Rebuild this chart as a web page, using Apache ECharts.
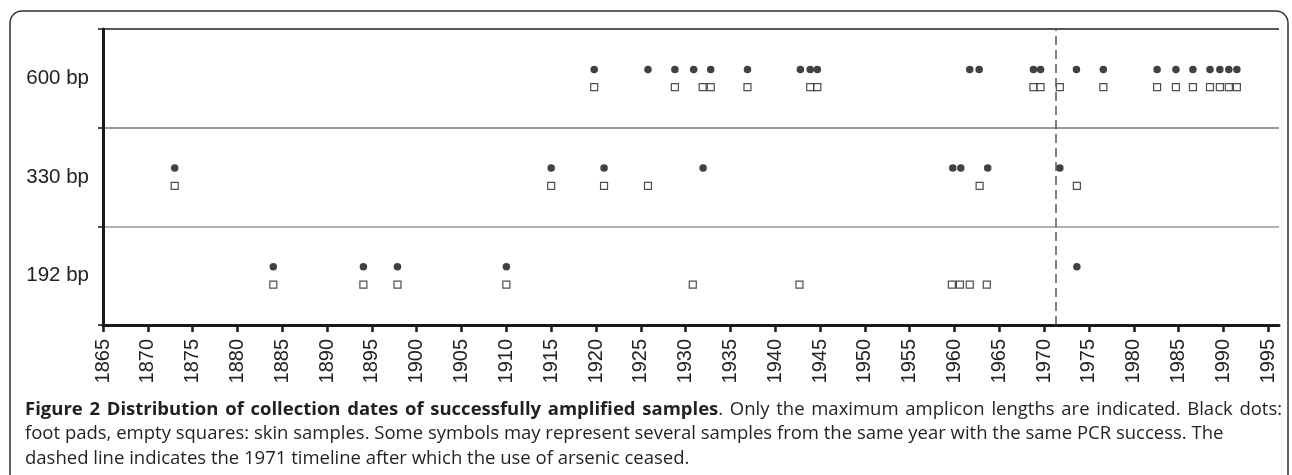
<!DOCTYPE html>
<html>
<head>
<meta charset="utf-8">
<script src="https://cdn.jsdelivr.net/npm/echarts@6/dist/echarts.min.js"></script>
<style>
html,body{margin:0;padding:0;background:#fff;}
#chart{width:1292px;height:475px;}
</style>
</head>
<body>
<div id="chart"></div>
<script>
// Amplicon length categories (bottom to top)
var categories = ['192 bp', '330 bp', '600 bp'];
// Year tick labels
var yearTicks = [1865,1870,1875,1880,1885,1890,1895,1900,1905,1910,1915,1920,1925,1930,1935,1940,1945,1950,1955,1960,1965,1970,1975,1980,1985,1990,1995];
// Black dots: foot pads (collection year)
var dots600 = [1919.8,1925.8,1928.8,1930.9,1932.8,1936.9,1942.8,1943.9,1944.7,1961.7,1962.75,1968.8,1969.6,1973.6,1976.6,1982.6,1984.7,1986.6,1988.5,1989.6,1990.6,1991.5];
var dots330 = [1873.0,1915.0,1920.9,1931.95,1959.8,1960.7,1963.7,1971.75];
var dots192 = [1884.0,1894.05,1897.85,1910.0,1973.65];
// Empty squares: skin samples (collection year)
var squares600 = [1919.8,1928.8,1931.9,1932.8,1936.9,1943.9,1944.7,1968.8,1969.6,1971.75,1976.6,1982.6,1984.7,1986.6,1988.5,1989.6,1990.6,1991.5];
var squares330 = [1873.0,1915.0,1920.9,1925.8,1962.8,1973.65];
var squares192 = [1884.0,1894.05,1897.85,1910.0,1930.8,1942.7,1959.7,1960.6,1961.7,1963.6];
// Arsenic cessation timeline
var arsenicYear = 1971.3;

// Caption text
var captionBold = 'Figure 2 Distribution of collection dates of successfully amplified samples';
var captionLine1 = '. Only the maximum amplicon lengths are indicated. Black dots:';
var captionLine2 = 'foot pads, empty squares: skin samples. Some symbols may represent several samples from the same year with the same PCR success. The';
var captionLine3 = 'dashed line indicates the 1971 timeline after which the use of arsenic ceased.';

var DOT_OFF = 0.59, SQ_OFF = 0.41;
function rowPoints(years, row, off) {
  return years.map(function (y) { return [y, row + off]; });
}
var dotData = [].concat(rowPoints(dots192, 0, DOT_OFF), rowPoints(dots330, 1, DOT_OFF), rowPoints(dots600, 2, DOT_OFF));
var sqData = [].concat(rowPoints(squares192, 0, SQ_OFF), rowPoints(squares330, 1, SQ_OFF), rowPoints(squares600, 2, SQ_OFF));

// justified first line: spaces as fixed-width tokens
function justify(str, cls) {
  return str.split(' ').map(function (w) { return w ? '{' + cls + '|' + w + '}' : ''; }).join('{s| }');
}
var captionText = justify(captionBold, 'b') + '{s| }'.slice(0, 0) + justify(captionLine1, 'r') +
  '\n{r|' + captionLine2 + '}\n{r|' + captionLine3 + '}';

var chart = echarts.init(document.getElementById('chart'), null, {renderer: 'canvas'});
var option = {
  animation: false,
  backgroundColor: '#fff',
  grid: {left: 103, right: 13, top: 29, bottom: 150, containLabel: false},
  title: {
    left: 20, top: 392,
    text: captionText,
    textStyle: {
      rich: {
        b: {fontFamily: 'Open Sans', fontWeight: 'bold', fontSize: 18.5, color: '#231f20', lineHeight: 24.5},
        r: {fontFamily: 'Open Sans', fontWeight: 'normal', fontSize: 18.5, color: '#231f20', lineHeight: 24.5},
        s: {fontFamily: 'Open Sans', fontSize: 18.5, width: 6.7, lineHeight: 24.5}
      }
    }
  },
  graphic: [{
    type: 'rect', silent: true, z: -1,
    shape: {x: 10, y: 11, width: 1278, height: 600, r: 12},
    style: {fill: 'none', stroke: '#333', lineWidth: 1.5}
  }],
  xAxis: {
    type: 'value', min: 1865, max: 1996.2,
    axisLine: {show: true, onZero: false, lineStyle: {color: '#1a1a1a', width: 3}},
    axisTick: {show: true, length: 7, customValues: yearTicks, lineStyle: {color: '#1a1a1a', width: 2.5}},
    axisLabel: {
      customValues: yearTicks, rotate: 90, margin: 14,
      fontFamily: 'Liberation Sans', fontSize: 20, color: '#222',
      formatter: function (v) { return String(v); }
    },
    splitLine: {show: false}
  },
  yAxis: [{
    type: 'category', data: categories, boundaryGap: true,
    axisLine: {show: true, lineStyle: {color: '#1a1a1a', width: 3}},
    axisTick: {show: true, length: 5, alignWithLabel: false, lineStyle: {color: '#1a1a1a', width: 1.5}},
    axisLabel: {margin: 14, fontFamily: 'Liberation Sans', fontSize: 20.5, color: '#222'},
    splitLine: {show: true, lineStyle: {color: ['#888', '#999', '#777', '#222'], width: 1.5}}
  }, {
    type: 'value', min: 0, max: 3, show: false,
    splitLine: {show: false}
  }],
  series: [{
    name: 'Foot pads', type: 'scatter', yAxisIndex: 1,
    symbol: 'circle', symbolSize: 7.5,
    itemStyle: {color: '#111'},
    data: dotData,
    markLine: {
      silent: true, symbol: 'none', animation: false,
      label: {show: false},
      lineStyle: {color: '#555', type: [9, 5], width: 1.5},
      data: [{xAxis: arsenicYear}]
    }
  }, {
    name: 'Skin samples', type: 'scatter', yAxisIndex: 1,
    symbol: 'rect', symbolSize: 7,
    itemStyle: {color: '#fff', borderColor: '#222', borderWidth: 1.2},
    data: sqData
  }]
};
chart.setOption(option);
</script>
</body>
</html>
